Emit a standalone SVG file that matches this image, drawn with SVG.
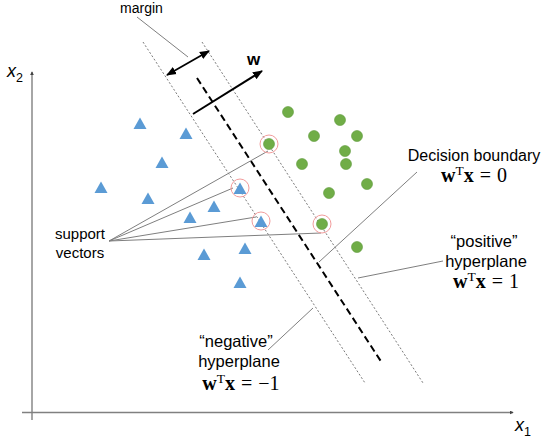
<svg xmlns="http://www.w3.org/2000/svg" width="550" height="443" viewBox="0 0 550 443">
<style>
.lbl{font-family:"Liberation Sans",Arial,sans-serif;fill:#000}
.math{font-family:"Liberation Serif","Times New Roman",serif;font-size:20px;fill:#000}
.b{font-weight:bold}
.lead{stroke:#7f7f7f;stroke-width:1;fill:none}
.dot{stroke:#7a7a7a;stroke-width:1;stroke-dasharray:2 2;fill:none}
.tri{fill:#5b9bd5}
.cir{fill:#70ad47;stroke:#5e9a3b;stroke-width:0.6}
.hl{fill:none;stroke:#f29c9c;stroke-width:1}
</style>
<defs>
<marker id="ah" viewBox="0 0 10 10" refX="9" refY="5" markerWidth="10" markerHeight="10" markerUnits="userSpaceOnUse" orient="auto-start-reverse">
<path d="M0,1 L10,5 L0,9 Z" fill="#000"/>
</marker>
<marker id="ax" viewBox="0 0 6 6" refX="5" refY="3" markerWidth="4" markerHeight="4" markerUnits="userSpaceOnUse" orient="auto">
<path d="M0,0 L6,3 L0,6 Z" fill="#444"/>
</marker>
<path id="t" d="M0,-6.5 L6.5,5 L-6.5,5 Z"/>
</defs>

<g id="axes">
<line x1="32" y1="420" x2="32" y2="72" stroke="#a6a6a6" stroke-width="2" marker-end="url(#ax)"/>
<line x1="22" y1="412.5" x2="513" y2="412.5" stroke="#808080" stroke-width="1.5" marker-end="url(#ax)"/>
<text class="lbl" x="7" y="77" font-size="18" font-style="italic">x<tspan font-size="12.5" font-style="normal" dy="5">2</tspan></text>
<text class="lbl" x="515" y="431" font-size="18" font-style="italic">x<tspan font-size="12.5" font-style="normal" dy="5">1</tspan></text>
</g>

<g id="connectors">
<line class="dot" x1="143" y1="42" x2="365" y2="383"/>
<line class="dot" x1="202" y1="42" x2="423" y2="383"/>
<line x1="197" y1="78" x2="382" y2="363" stroke="#000" stroke-width="2" stroke-dasharray="7 4"/>
<line x1="167" y1="75" x2="209" y2="51" stroke="#000" stroke-width="1.8" marker-start="url(#ah)" marker-end="url(#ah)"/>
<line x1="193" y1="114" x2="262" y2="71" stroke="#000" stroke-width="2" marker-end="url(#ah)"/>
<line class="lead" x1="137" y1="17" x2="188" y2="57"/>
<line class="lead" x1="109" y1="241" x2="268" y2="151"/>
<line class="lead" x1="109" y1="241" x2="233" y2="188"/>
<line class="lead" x1="109" y1="241" x2="256" y2="217"/>
<line class="lead" x1="109" y1="241" x2="321" y2="233"/>
<line class="lead" x1="417" y1="172" x2="319" y2="262"/>
<line class="lead" x1="443" y1="261" x2="358" y2="278"/>
<line class="lead" x1="268" y1="350" x2="313" y2="308"/>
</g>

<g id="negatives">
<use href="#t" class="tri" x="140" y="124"/>
<use href="#t" class="tri" x="186" y="134"/>
<use href="#t" class="tri" x="162" y="163"/>
<use href="#t" class="tri" x="101" y="188"/>
<use href="#t" class="tri" x="148" y="199"/>
<use href="#t" class="tri" x="240" y="189"/>
<use href="#t" class="tri" x="214" y="207"/>
<use href="#t" class="tri" x="190" y="218"/>
<use href="#t" class="tri" x="261" y="222"/>
<use href="#t" class="tri" x="245" y="249"/>
<use href="#t" class="tri" x="204" y="255"/>
<use href="#t" class="tri" x="240" y="283"/>
</g>

<g id="positives">
<circle class="cir" cx="288" cy="112" r="5.5"/>
<circle class="cir" cx="340" cy="120" r="5.5"/>
<circle class="cir" cx="314" cy="136" r="5.5"/>
<circle class="cir" cx="357" cy="136" r="5.5"/>
<circle class="cir" cx="269" cy="144" r="5.5"/>
<circle class="cir" cx="345" cy="151" r="5.5"/>
<circle class="cir" cx="302" cy="164" r="5.5"/>
<circle class="cir" cx="346" cy="164" r="5.5"/>
<circle class="cir" cx="367" cy="184" r="5.5"/>
<circle class="cir" cx="329" cy="193" r="5.5"/>
<circle class="cir" cx="322" cy="224" r="5.5"/>
<circle class="cir" cx="357" cy="247" r="5.5"/>
</g>

<g id="support-highlights">
<circle class="hl" cx="269" cy="144" r="9"/>
<circle class="hl" cx="240" cy="188" r="9"/>
<circle class="hl" cx="261" cy="221" r="9"/>
<circle class="hl" cx="322" cy="224" r="9"/>
</g>

<g id="labels">
<text class="lbl" x="141.5" y="13" font-size="14" text-anchor="middle">margin</text>
<text class="lbl b" x="247" y="65" font-size="17">w</text>
<text class="lbl" x="80" y="239" font-size="15" text-anchor="middle">support</text>
<text class="lbl" x="80" y="258" font-size="15" text-anchor="middle">vectors</text>
<text class="lbl" x="474" y="161" font-size="16" text-anchor="middle">Decision boundary</text>
<text class="math" x="474" y="182" text-anchor="middle"><tspan class="b">w</tspan><tspan font-size="13.5" dy="-7">T</tspan><tspan class="b" dy="7">x</tspan><tspan dx="6">=</tspan><tspan dx="6">0</tspan></text>
<text class="lbl" x="484" y="247" font-size="16.5" text-anchor="middle">“positive”</text>
<text class="lbl" x="486" y="267" font-size="16.5" text-anchor="middle">hyperplane</text>
<text class="math" x="486" y="288" text-anchor="middle"><tspan class="b">w</tspan><tspan font-size="13.5" dy="-7">T</tspan><tspan class="b" dy="7">x</tspan><tspan dx="6">=</tspan><tspan dx="6">1</tspan></text>
<text class="lbl" x="236" y="347" font-size="16.5" text-anchor="middle">“negative”</text>
<text class="lbl" x="239" y="367" font-size="16.5" text-anchor="middle">hyperplane</text>
<text class="math" x="241" y="390" text-anchor="middle"><tspan class="b">w</tspan><tspan font-size="13.5" dy="-7">T</tspan><tspan class="b" dy="7">x</tspan><tspan dx="6">=</tspan><tspan dx="6">−1</tspan></text>
</g>
</svg>
